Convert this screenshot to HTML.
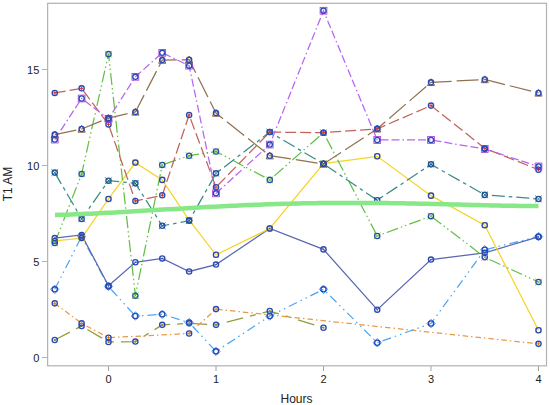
<!DOCTYPE html><html><head><meta charset="utf-8"><style>html,body{margin:0;padding:0;background:#fff;}svg{display:block;}text{font-family:"Liberation Sans",sans-serif;fill:#222;}</style></head><body>
<svg width="550" height="405" viewBox="0 0 550 405">
<rect x="0" y="0" width="550" height="405" fill="#fff"/>
<path d="M54.75,340.03 L81.62,326.01 L108.50,341.95 L135.38,341.56 L162.25,324.86 L189.12,323.32 L216.00,324.86 L269.75,311.04 L323.50,327.74" fill="none" stroke="#8E9E3E" stroke-width="1.25" stroke-dasharray="17 7 6 7"/>
<path d="M54.75,303.36 L81.62,323.32 L108.50,337.72 L189.12,333.50 L216.00,309.12 L538.50,343.87" fill="none" stroke="#E69A48" stroke-width="1.25" stroke-dasharray="5.5 3 1.5 3"/>
<path d="M54.75,289.34 L81.62,236.54 L108.50,286.46 L135.38,316.03 L162.25,314.30 L189.12,322.56 L216.00,351.36 L269.75,316.03 L323.50,289.34 L377.25,342.72 L431.00,323.52 L484.75,249.79 L538.50,236.54" fill="none" stroke="#4AA6F5" stroke-width="1.25" stroke-dasharray="9 4 1.5 4 1.5 4"/>
<path d="M54.75,238.08 L81.62,235.00 L108.50,285.69 L135.38,262.27 L162.25,258.43 L189.12,271.48 L216.00,264.57 L269.75,228.48 L323.50,249.40 L377.25,309.69 L431.00,259.58 L484.75,252.86 L538.50,236.92" fill="none" stroke="#5A68B0" stroke-width="1.25"/>
<path d="M54.75,240.96 L81.62,238.08 L108.50,198.91 L135.38,162.62 L162.25,179.90 L189.12,220.22 L216.00,254.78 L269.75,228.48 L323.50,163.58 L377.25,156.28 L431.00,195.64 L484.75,225.21 L538.50,330.24" fill="none" stroke="#F5D42A" stroke-width="1.25"/>
<path d="M54.75,243.07 L81.62,173.95 L108.50,54.14 L135.38,295.68 L162.25,164.92 L189.12,155.71 L216.00,151.48 L269.75,179.90 L323.50,132.67 L377.25,235.96 L431.00,216.19 L484.75,257.28 L538.50,282.04" fill="none" stroke="#62C045" stroke-width="1.25" stroke-dasharray="12 3 1.5 3 1.5 3"/>
<path d="M54.75,172.60 L81.62,218.88 L108.50,180.67 L135.38,183.36 L162.25,225.79 L189.12,220.80 L216.00,173.37 L269.75,132.09 L323.50,163.96 L377.25,200.25 L431.00,164.35 L484.75,194.88 L538.50,198.91" fill="none" stroke="#3A8C84" stroke-width="1.25" stroke-dasharray="13 4 3.5 4"/>
<path d="M54.75,92.92 L81.62,88.32 L108.50,124.41 L135.38,201.02 L162.25,195.26 L189.12,115.00 L216.00,187.20 L269.75,132.09 L323.50,132.67 L377.25,128.83 L431.00,105.60 L484.75,148.22 L538.50,169.72" fill="none" stroke="#C0645A" stroke-width="1.25" stroke-dasharray="11 4"/>
<path d="M54.75,139.58 L81.62,98.49 L108.50,118.84 L135.38,76.80 L162.25,52.80 L189.12,65.66 L216.00,193.34 L269.75,144.57 L323.50,10.75 L377.25,139.96 L431.00,139.96 L484.75,148.99 L538.50,166.46" fill="none" stroke="#B565F0" stroke-width="1.25" stroke-dasharray="8 3 8 3 1.5 3"/>
<path d="M54.75,134.59 L81.62,129.02 L108.50,118.08 L135.38,111.93 L162.25,60.09 L189.12,59.71 L216.00,113.08 L269.75,155.71 L323.50,163.96 L377.25,128.83 L431.00,82.36 L484.75,79.48 L538.50,92.92" fill="none" stroke="#907252" stroke-width="1.25" stroke-dasharray="22 5"/>
<circle cx="54.75" cy="340.03" r="2.6" fill="none" stroke="#2A48B5" stroke-width="1.35"/>
<circle cx="54.75" cy="340.03" r="1.1" fill="#7F8E1F"/>
<circle cx="81.62" cy="326.01" r="2.6" fill="none" stroke="#2A48B5" stroke-width="1.35"/>
<circle cx="81.62" cy="326.01" r="1.1" fill="#7F8E1F"/>
<circle cx="108.50" cy="341.95" r="2.6" fill="none" stroke="#2A48B5" stroke-width="1.35"/>
<circle cx="108.50" cy="341.95" r="1.1" fill="#7F8E1F"/>
<circle cx="135.38" cy="341.56" r="2.6" fill="none" stroke="#2A48B5" stroke-width="1.35"/>
<circle cx="135.38" cy="341.56" r="1.1" fill="#7F8E1F"/>
<circle cx="162.25" cy="324.86" r="2.6" fill="none" stroke="#2A48B5" stroke-width="1.35"/>
<circle cx="162.25" cy="324.86" r="1.1" fill="#7F8E1F"/>
<circle cx="189.12" cy="323.32" r="2.6" fill="none" stroke="#2A48B5" stroke-width="1.35"/>
<circle cx="189.12" cy="323.32" r="1.1" fill="#7F8E1F"/>
<circle cx="216.00" cy="324.86" r="2.6" fill="none" stroke="#2A48B5" stroke-width="1.35"/>
<circle cx="216.00" cy="324.86" r="1.1" fill="#7F8E1F"/>
<circle cx="269.75" cy="311.04" r="2.6" fill="none" stroke="#2A48B5" stroke-width="1.35"/>
<circle cx="269.75" cy="311.04" r="1.1" fill="#7F8E1F"/>
<circle cx="323.50" cy="327.74" r="2.6" fill="none" stroke="#2A48B5" stroke-width="1.35"/>
<circle cx="323.50" cy="327.74" r="1.1" fill="#7F8E1F"/>
<circle cx="54.75" cy="303.36" r="2.6" fill="none" stroke="#2A48B5" stroke-width="1.35"/>
<path d="M53.05,303.36h3.4M54.75,301.66v3.4" stroke="#E08010" stroke-width="1"/>
<circle cx="81.62" cy="323.32" r="2.6" fill="none" stroke="#2A48B5" stroke-width="1.35"/>
<path d="M79.92,323.32h3.4M81.62,321.62v3.4" stroke="#E08010" stroke-width="1"/>
<circle cx="108.50" cy="337.72" r="2.6" fill="none" stroke="#2A48B5" stroke-width="1.35"/>
<path d="M106.80,337.72h3.4M108.50,336.02v3.4" stroke="#E08010" stroke-width="1"/>
<circle cx="189.12" cy="333.50" r="2.6" fill="none" stroke="#2A48B5" stroke-width="1.35"/>
<path d="M187.43,333.50h3.4M189.12,331.80v3.4" stroke="#E08010" stroke-width="1"/>
<circle cx="216.00" cy="309.12" r="2.6" fill="none" stroke="#2A48B5" stroke-width="1.35"/>
<path d="M214.30,309.12h3.4M216.00,307.42v3.4" stroke="#E08010" stroke-width="1"/>
<circle cx="538.50" cy="343.87" r="2.6" fill="none" stroke="#2A48B5" stroke-width="1.35"/>
<path d="M536.80,343.87h3.4M538.50,342.17v3.4" stroke="#E08010" stroke-width="1"/>
<path d="M54.75,285.14L58.95,289.34L54.75,293.54L50.55,289.34Z" fill="none" stroke="#3A9CF8" stroke-width="1"/>
<circle cx="54.75" cy="289.34" r="2.6" fill="none" stroke="#2A48B5" stroke-width="1.35"/>
<path d="M81.62,232.34L85.83,236.54L81.62,240.74L77.42,236.54Z" fill="none" stroke="#3A9CF8" stroke-width="1"/>
<circle cx="81.62" cy="236.54" r="2.6" fill="none" stroke="#2A48B5" stroke-width="1.35"/>
<path d="M108.50,282.26L112.70,286.46L108.50,290.66L104.30,286.46Z" fill="none" stroke="#3A9CF8" stroke-width="1"/>
<circle cx="108.50" cy="286.46" r="2.6" fill="none" stroke="#2A48B5" stroke-width="1.35"/>
<path d="M135.38,311.83L139.57,316.03L135.38,320.23L131.18,316.03Z" fill="none" stroke="#3A9CF8" stroke-width="1"/>
<circle cx="135.38" cy="316.03" r="2.6" fill="none" stroke="#2A48B5" stroke-width="1.35"/>
<path d="M162.25,310.10L166.45,314.30L162.25,318.50L158.05,314.30Z" fill="none" stroke="#3A9CF8" stroke-width="1"/>
<circle cx="162.25" cy="314.30" r="2.6" fill="none" stroke="#2A48B5" stroke-width="1.35"/>
<path d="M189.12,318.36L193.32,322.56L189.12,326.76L184.93,322.56Z" fill="none" stroke="#3A9CF8" stroke-width="1"/>
<circle cx="189.12" cy="322.56" r="2.6" fill="none" stroke="#2A48B5" stroke-width="1.35"/>
<path d="M216.00,347.16L220.20,351.36L216.00,355.56L211.80,351.36Z" fill="none" stroke="#3A9CF8" stroke-width="1"/>
<circle cx="216.00" cy="351.36" r="2.6" fill="none" stroke="#2A48B5" stroke-width="1.35"/>
<path d="M269.75,311.83L273.95,316.03L269.75,320.23L265.55,316.03Z" fill="none" stroke="#3A9CF8" stroke-width="1"/>
<circle cx="269.75" cy="316.03" r="2.6" fill="none" stroke="#2A48B5" stroke-width="1.35"/>
<path d="M323.50,285.14L327.70,289.34L323.50,293.54L319.30,289.34Z" fill="none" stroke="#3A9CF8" stroke-width="1"/>
<circle cx="323.50" cy="289.34" r="2.6" fill="none" stroke="#2A48B5" stroke-width="1.35"/>
<path d="M377.25,338.52L381.45,342.72L377.25,346.92L373.05,342.72Z" fill="none" stroke="#3A9CF8" stroke-width="1"/>
<circle cx="377.25" cy="342.72" r="2.6" fill="none" stroke="#2A48B5" stroke-width="1.35"/>
<path d="M431.00,319.32L435.20,323.52L431.00,327.72L426.80,323.52Z" fill="none" stroke="#3A9CF8" stroke-width="1"/>
<circle cx="431.00" cy="323.52" r="2.6" fill="none" stroke="#2A48B5" stroke-width="1.35"/>
<path d="M484.75,245.59L488.95,249.79L484.75,253.99L480.55,249.79Z" fill="none" stroke="#3A9CF8" stroke-width="1"/>
<circle cx="484.75" cy="249.79" r="2.6" fill="none" stroke="#2A48B5" stroke-width="1.35"/>
<path d="M538.50,232.34L542.70,236.54L538.50,240.74L534.30,236.54Z" fill="none" stroke="#3A9CF8" stroke-width="1"/>
<circle cx="538.50" cy="236.54" r="2.6" fill="none" stroke="#2A48B5" stroke-width="1.35"/>
<circle cx="54.75" cy="238.08" r="2.6" fill="none" stroke="#2A48B5" stroke-width="1.35"/>
<circle cx="54.75" cy="238.08" r="0.8" fill="#445694"/>
<circle cx="81.62" cy="235.00" r="2.6" fill="none" stroke="#2A48B5" stroke-width="1.35"/>
<circle cx="81.62" cy="235.00" r="0.8" fill="#445694"/>
<circle cx="108.50" cy="285.69" r="2.6" fill="none" stroke="#2A48B5" stroke-width="1.35"/>
<circle cx="108.50" cy="285.69" r="0.8" fill="#445694"/>
<circle cx="135.38" cy="262.27" r="2.6" fill="none" stroke="#2A48B5" stroke-width="1.35"/>
<circle cx="135.38" cy="262.27" r="0.8" fill="#445694"/>
<circle cx="162.25" cy="258.43" r="2.6" fill="none" stroke="#2A48B5" stroke-width="1.35"/>
<circle cx="162.25" cy="258.43" r="0.8" fill="#445694"/>
<circle cx="189.12" cy="271.48" r="2.6" fill="none" stroke="#2A48B5" stroke-width="1.35"/>
<circle cx="189.12" cy="271.48" r="0.8" fill="#445694"/>
<circle cx="216.00" cy="264.57" r="2.6" fill="none" stroke="#2A48B5" stroke-width="1.35"/>
<circle cx="216.00" cy="264.57" r="0.8" fill="#445694"/>
<circle cx="269.75" cy="228.48" r="2.6" fill="none" stroke="#2A48B5" stroke-width="1.35"/>
<circle cx="269.75" cy="228.48" r="0.8" fill="#445694"/>
<circle cx="323.50" cy="249.40" r="2.6" fill="none" stroke="#2A48B5" stroke-width="1.35"/>
<circle cx="323.50" cy="249.40" r="0.8" fill="#445694"/>
<circle cx="377.25" cy="309.69" r="2.6" fill="none" stroke="#2A48B5" stroke-width="1.35"/>
<circle cx="377.25" cy="309.69" r="0.8" fill="#445694"/>
<circle cx="431.00" cy="259.58" r="2.6" fill="none" stroke="#2A48B5" stroke-width="1.35"/>
<circle cx="431.00" cy="259.58" r="0.8" fill="#445694"/>
<circle cx="484.75" cy="252.86" r="2.6" fill="none" stroke="#2A48B5" stroke-width="1.35"/>
<circle cx="484.75" cy="252.86" r="0.8" fill="#445694"/>
<circle cx="538.50" cy="236.92" r="2.6" fill="none" stroke="#2A48B5" stroke-width="1.35"/>
<circle cx="538.50" cy="236.92" r="0.8" fill="#445694"/>
<rect x="52.15" y="238.36" width="5.2" height="5.2" fill="none" stroke="#F9DA04" stroke-width="0.8"/>
<circle cx="54.75" cy="240.96" r="2.6" fill="none" stroke="#2A48B5" stroke-width="1.35"/>
<rect x="79.03" y="235.48" width="5.2" height="5.2" fill="none" stroke="#F9DA04" stroke-width="0.8"/>
<circle cx="81.62" cy="238.08" r="2.6" fill="none" stroke="#2A48B5" stroke-width="1.35"/>
<rect x="105.90" y="196.31" width="5.2" height="5.2" fill="none" stroke="#F9DA04" stroke-width="0.8"/>
<circle cx="108.50" cy="198.91" r="2.6" fill="none" stroke="#2A48B5" stroke-width="1.35"/>
<rect x="132.78" y="160.02" width="5.2" height="5.2" fill="none" stroke="#F9DA04" stroke-width="0.8"/>
<circle cx="135.38" cy="162.62" r="2.6" fill="none" stroke="#2A48B5" stroke-width="1.35"/>
<rect x="159.65" y="177.30" width="5.2" height="5.2" fill="none" stroke="#F9DA04" stroke-width="0.8"/>
<circle cx="162.25" cy="179.90" r="2.6" fill="none" stroke="#2A48B5" stroke-width="1.35"/>
<rect x="186.53" y="217.62" width="5.2" height="5.2" fill="none" stroke="#F9DA04" stroke-width="0.8"/>
<circle cx="189.12" cy="220.22" r="2.6" fill="none" stroke="#2A48B5" stroke-width="1.35"/>
<rect x="213.40" y="252.18" width="5.2" height="5.2" fill="none" stroke="#F9DA04" stroke-width="0.8"/>
<circle cx="216.00" cy="254.78" r="2.6" fill="none" stroke="#2A48B5" stroke-width="1.35"/>
<rect x="267.15" y="225.88" width="5.2" height="5.2" fill="none" stroke="#F9DA04" stroke-width="0.8"/>
<circle cx="269.75" cy="228.48" r="2.6" fill="none" stroke="#2A48B5" stroke-width="1.35"/>
<rect x="320.90" y="160.98" width="5.2" height="5.2" fill="none" stroke="#F9DA04" stroke-width="0.8"/>
<circle cx="323.50" cy="163.58" r="2.6" fill="none" stroke="#2A48B5" stroke-width="1.35"/>
<rect x="374.65" y="153.68" width="5.2" height="5.2" fill="none" stroke="#F9DA04" stroke-width="0.8"/>
<circle cx="377.25" cy="156.28" r="2.6" fill="none" stroke="#2A48B5" stroke-width="1.35"/>
<rect x="428.40" y="193.04" width="5.2" height="5.2" fill="none" stroke="#F9DA04" stroke-width="0.8"/>
<circle cx="431.00" cy="195.64" r="2.6" fill="none" stroke="#2A48B5" stroke-width="1.35"/>
<rect x="482.15" y="222.61" width="5.2" height="5.2" fill="none" stroke="#F9DA04" stroke-width="0.8"/>
<circle cx="484.75" cy="225.21" r="2.6" fill="none" stroke="#2A48B5" stroke-width="1.35"/>
<rect x="535.90" y="327.64" width="5.2" height="5.2" fill="none" stroke="#F9DA04" stroke-width="0.8"/>
<circle cx="538.50" cy="330.24" r="2.6" fill="none" stroke="#2A48B5" stroke-width="1.35"/>
<circle cx="54.75" cy="243.07" r="2.6" fill="none" stroke="#2A48B5" stroke-width="1.35"/>
<path d="M51.45,239.77l6.6,6.6M51.45,246.37l6.6,-6.6" stroke="#47A82A" stroke-width="0.9" opacity="0.85"/>
<circle cx="81.62" cy="173.95" r="2.6" fill="none" stroke="#2A48B5" stroke-width="1.35"/>
<path d="M78.33,170.65l6.6,6.6M78.33,177.25l6.6,-6.6" stroke="#47A82A" stroke-width="0.9" opacity="0.85"/>
<circle cx="108.50" cy="54.14" r="2.6" fill="none" stroke="#2A48B5" stroke-width="1.35"/>
<path d="M105.20,50.84l6.6,6.6M105.20,57.44l6.6,-6.6" stroke="#47A82A" stroke-width="0.9" opacity="0.85"/>
<circle cx="135.38" cy="295.68" r="2.6" fill="none" stroke="#2A48B5" stroke-width="1.35"/>
<path d="M132.07,292.38l6.6,6.6M132.07,298.98l6.6,-6.6" stroke="#47A82A" stroke-width="0.9" opacity="0.85"/>
<circle cx="162.25" cy="164.92" r="2.6" fill="none" stroke="#2A48B5" stroke-width="1.35"/>
<path d="M158.95,161.62l6.6,6.6M158.95,168.22l6.6,-6.6" stroke="#47A82A" stroke-width="0.9" opacity="0.85"/>
<circle cx="189.12" cy="155.71" r="2.6" fill="none" stroke="#2A48B5" stroke-width="1.35"/>
<path d="M185.82,152.41l6.6,6.6M185.82,159.01l6.6,-6.6" stroke="#47A82A" stroke-width="0.9" opacity="0.85"/>
<circle cx="216.00" cy="151.48" r="2.6" fill="none" stroke="#2A48B5" stroke-width="1.35"/>
<path d="M212.70,148.18l6.6,6.6M212.70,154.78l6.6,-6.6" stroke="#47A82A" stroke-width="0.9" opacity="0.85"/>
<circle cx="269.75" cy="179.90" r="2.6" fill="none" stroke="#2A48B5" stroke-width="1.35"/>
<path d="M266.45,176.60l6.6,6.6M266.45,183.20l6.6,-6.6" stroke="#47A82A" stroke-width="0.9" opacity="0.85"/>
<circle cx="323.50" cy="132.67" r="2.6" fill="none" stroke="#2A48B5" stroke-width="1.35"/>
<path d="M320.20,129.37l6.6,6.6M320.20,135.97l6.6,-6.6" stroke="#47A82A" stroke-width="0.9" opacity="0.85"/>
<circle cx="377.25" cy="235.96" r="2.6" fill="none" stroke="#2A48B5" stroke-width="1.35"/>
<path d="M373.95,232.66l6.6,6.6M373.95,239.26l6.6,-6.6" stroke="#47A82A" stroke-width="0.9" opacity="0.85"/>
<circle cx="431.00" cy="216.19" r="2.6" fill="none" stroke="#2A48B5" stroke-width="1.35"/>
<path d="M427.70,212.89l6.6,6.6M427.70,219.49l6.6,-6.6" stroke="#47A82A" stroke-width="0.9" opacity="0.85"/>
<circle cx="484.75" cy="257.28" r="2.6" fill="none" stroke="#2A48B5" stroke-width="1.35"/>
<path d="M481.45,253.98l6.6,6.6M481.45,260.58l6.6,-6.6" stroke="#47A82A" stroke-width="0.9" opacity="0.85"/>
<circle cx="538.50" cy="282.04" r="2.6" fill="none" stroke="#2A48B5" stroke-width="1.35"/>
<path d="M535.20,278.74l6.6,6.6M535.20,285.34l6.6,-6.6" stroke="#47A82A" stroke-width="0.9" opacity="0.85"/>
<circle cx="54.75" cy="172.60" r="2.6" fill="none" stroke="#2A48B5" stroke-width="1.35"/>
<path d="M51.45,169.30l6.6,6.6M51.45,175.90l6.6,-6.6" stroke="#01665E" stroke-width="0.9" opacity="0.85"/>
<circle cx="81.62" cy="218.88" r="2.6" fill="none" stroke="#2A48B5" stroke-width="1.35"/>
<path d="M78.33,215.58l6.6,6.6M78.33,222.18l6.6,-6.6" stroke="#01665E" stroke-width="0.9" opacity="0.85"/>
<circle cx="108.50" cy="180.67" r="2.6" fill="none" stroke="#2A48B5" stroke-width="1.35"/>
<path d="M105.20,177.37l6.6,6.6M105.20,183.97l6.6,-6.6" stroke="#01665E" stroke-width="0.9" opacity="0.85"/>
<circle cx="135.38" cy="183.36" r="2.6" fill="none" stroke="#2A48B5" stroke-width="1.35"/>
<path d="M132.07,180.06l6.6,6.6M132.07,186.66l6.6,-6.6" stroke="#01665E" stroke-width="0.9" opacity="0.85"/>
<circle cx="162.25" cy="225.79" r="2.6" fill="none" stroke="#2A48B5" stroke-width="1.35"/>
<path d="M158.95,222.49l6.6,6.6M158.95,229.09l6.6,-6.6" stroke="#01665E" stroke-width="0.9" opacity="0.85"/>
<circle cx="189.12" cy="220.80" r="2.6" fill="none" stroke="#2A48B5" stroke-width="1.35"/>
<path d="M185.82,217.50l6.6,6.6M185.82,224.10l6.6,-6.6" stroke="#01665E" stroke-width="0.9" opacity="0.85"/>
<circle cx="216.00" cy="173.37" r="2.6" fill="none" stroke="#2A48B5" stroke-width="1.35"/>
<path d="M212.70,170.07l6.6,6.6M212.70,176.67l6.6,-6.6" stroke="#01665E" stroke-width="0.9" opacity="0.85"/>
<circle cx="269.75" cy="132.09" r="2.6" fill="none" stroke="#2A48B5" stroke-width="1.35"/>
<path d="M266.45,128.79l6.6,6.6M266.45,135.39l6.6,-6.6" stroke="#01665E" stroke-width="0.9" opacity="0.85"/>
<circle cx="323.50" cy="163.96" r="2.6" fill="none" stroke="#2A48B5" stroke-width="1.35"/>
<path d="M320.20,160.66l6.6,6.6M320.20,167.26l6.6,-6.6" stroke="#01665E" stroke-width="0.9" opacity="0.85"/>
<circle cx="377.25" cy="200.25" r="2.6" fill="none" stroke="#2A48B5" stroke-width="1.35"/>
<path d="M373.95,196.95l6.6,6.6M373.95,203.55l6.6,-6.6" stroke="#01665E" stroke-width="0.9" opacity="0.85"/>
<circle cx="431.00" cy="164.35" r="2.6" fill="none" stroke="#2A48B5" stroke-width="1.35"/>
<path d="M427.70,161.05l6.6,6.6M427.70,167.65l6.6,-6.6" stroke="#01665E" stroke-width="0.9" opacity="0.85"/>
<circle cx="484.75" cy="194.88" r="2.6" fill="none" stroke="#2A48B5" stroke-width="1.35"/>
<path d="M481.45,191.58l6.6,6.6M481.45,198.18l6.6,-6.6" stroke="#01665E" stroke-width="0.9" opacity="0.85"/>
<circle cx="538.50" cy="198.91" r="2.6" fill="none" stroke="#2A48B5" stroke-width="1.35"/>
<path d="M535.20,195.61l6.6,6.6M535.20,202.21l6.6,-6.6" stroke="#01665E" stroke-width="0.9" opacity="0.85"/>
<circle cx="54.75" cy="92.92" r="2.6" fill="none" stroke="#2A48B5" stroke-width="1.35"/>
<path d="M53.05,92.92h3.4M54.75,91.22v3.4" stroke="#E03020" stroke-width="1"/>
<circle cx="81.62" cy="88.32" r="2.6" fill="none" stroke="#2A48B5" stroke-width="1.35"/>
<path d="M79.92,88.32h3.4M81.62,86.62v3.4" stroke="#E03020" stroke-width="1"/>
<circle cx="108.50" cy="124.41" r="2.6" fill="none" stroke="#2A48B5" stroke-width="1.35"/>
<path d="M106.80,124.41h3.4M108.50,122.71v3.4" stroke="#E03020" stroke-width="1"/>
<circle cx="135.38" cy="201.02" r="2.6" fill="none" stroke="#2A48B5" stroke-width="1.35"/>
<path d="M133.68,201.02h3.4M135.38,199.32v3.4" stroke="#E03020" stroke-width="1"/>
<circle cx="162.25" cy="195.26" r="2.6" fill="none" stroke="#2A48B5" stroke-width="1.35"/>
<path d="M160.55,195.26h3.4M162.25,193.56v3.4" stroke="#E03020" stroke-width="1"/>
<circle cx="189.12" cy="115.00" r="2.6" fill="none" stroke="#2A48B5" stroke-width="1.35"/>
<path d="M187.43,115.00h3.4M189.12,113.30v3.4" stroke="#E03020" stroke-width="1"/>
<circle cx="216.00" cy="187.20" r="2.6" fill="none" stroke="#2A48B5" stroke-width="1.35"/>
<path d="M214.30,187.20h3.4M216.00,185.50v3.4" stroke="#E03020" stroke-width="1"/>
<circle cx="269.75" cy="132.09" r="2.6" fill="none" stroke="#2A48B5" stroke-width="1.35"/>
<path d="M268.05,132.09h3.4M269.75,130.39v3.4" stroke="#E03020" stroke-width="1"/>
<circle cx="323.50" cy="132.67" r="2.6" fill="none" stroke="#2A48B5" stroke-width="1.35"/>
<path d="M321.80,132.67h3.4M323.50,130.97v3.4" stroke="#E03020" stroke-width="1"/>
<circle cx="377.25" cy="128.83" r="2.6" fill="none" stroke="#2A48B5" stroke-width="1.35"/>
<path d="M375.55,128.83h3.4M377.25,127.13v3.4" stroke="#E03020" stroke-width="1"/>
<circle cx="431.00" cy="105.60" r="2.6" fill="none" stroke="#2A48B5" stroke-width="1.35"/>
<path d="M429.30,105.60h3.4M431.00,103.90v3.4" stroke="#E03020" stroke-width="1"/>
<circle cx="484.75" cy="148.22" r="2.6" fill="none" stroke="#2A48B5" stroke-width="1.35"/>
<path d="M483.05,148.22h3.4M484.75,146.52v3.4" stroke="#E03020" stroke-width="1"/>
<circle cx="538.50" cy="169.72" r="2.6" fill="none" stroke="#2A48B5" stroke-width="1.35"/>
<path d="M536.80,169.72h3.4M538.50,168.02v3.4" stroke="#E03020" stroke-width="1"/>
<rect x="51.35" y="136.18" width="6.8" height="6.8" fill="none" stroke="#9D3CDB" stroke-width="0.8"/>
<circle cx="54.75" cy="139.58" r="2.6" fill="none" stroke="#2A48B5" stroke-width="1.35"/>
<rect x="78.22" y="95.09" width="6.8" height="6.8" fill="none" stroke="#9D3CDB" stroke-width="0.8"/>
<circle cx="81.62" cy="98.49" r="2.6" fill="none" stroke="#2A48B5" stroke-width="1.35"/>
<rect x="105.10" y="115.44" width="6.8" height="6.8" fill="none" stroke="#9D3CDB" stroke-width="0.8"/>
<circle cx="108.50" cy="118.84" r="2.6" fill="none" stroke="#2A48B5" stroke-width="1.35"/>
<rect x="131.97" y="73.40" width="6.8" height="6.8" fill="none" stroke="#9D3CDB" stroke-width="0.8"/>
<circle cx="135.38" cy="76.80" r="2.6" fill="none" stroke="#2A48B5" stroke-width="1.35"/>
<rect x="158.85" y="49.40" width="6.8" height="6.8" fill="none" stroke="#9D3CDB" stroke-width="0.8"/>
<circle cx="162.25" cy="52.80" r="2.6" fill="none" stroke="#2A48B5" stroke-width="1.35"/>
<rect x="185.72" y="62.26" width="6.8" height="6.8" fill="none" stroke="#9D3CDB" stroke-width="0.8"/>
<circle cx="189.12" cy="65.66" r="2.6" fill="none" stroke="#2A48B5" stroke-width="1.35"/>
<rect x="212.60" y="189.94" width="6.8" height="6.8" fill="none" stroke="#9D3CDB" stroke-width="0.8"/>
<circle cx="216.00" cy="193.34" r="2.6" fill="none" stroke="#2A48B5" stroke-width="1.35"/>
<rect x="266.35" y="141.17" width="6.8" height="6.8" fill="none" stroke="#9D3CDB" stroke-width="0.8"/>
<circle cx="269.75" cy="144.57" r="2.6" fill="none" stroke="#2A48B5" stroke-width="1.35"/>
<rect x="320.10" y="7.35" width="6.8" height="6.8" fill="none" stroke="#9D3CDB" stroke-width="0.8"/>
<circle cx="323.50" cy="10.75" r="2.6" fill="none" stroke="#2A48B5" stroke-width="1.35"/>
<rect x="373.85" y="136.56" width="6.8" height="6.8" fill="none" stroke="#9D3CDB" stroke-width="0.8"/>
<circle cx="377.25" cy="139.96" r="2.6" fill="none" stroke="#2A48B5" stroke-width="1.35"/>
<rect x="427.60" y="136.56" width="6.8" height="6.8" fill="none" stroke="#9D3CDB" stroke-width="0.8"/>
<circle cx="431.00" cy="139.96" r="2.6" fill="none" stroke="#2A48B5" stroke-width="1.35"/>
<rect x="481.35" y="145.59" width="6.8" height="6.8" fill="none" stroke="#9D3CDB" stroke-width="0.8"/>
<circle cx="484.75" cy="148.99" r="2.6" fill="none" stroke="#2A48B5" stroke-width="1.35"/>
<rect x="535.10" y="163.06" width="6.8" height="6.8" fill="none" stroke="#9D3CDB" stroke-width="0.8"/>
<circle cx="538.50" cy="166.46" r="2.6" fill="none" stroke="#2A48B5" stroke-width="1.35"/>
<path d="M54.75,130.99L58.35,137.79L51.15,137.79Z" fill="none" stroke="#7A5A35" stroke-width="0.9"/>
<circle cx="54.75" cy="134.59" r="2.6" fill="none" stroke="#2A48B5" stroke-width="1.35"/>
<path d="M81.62,125.42L85.22,132.22L78.03,132.22Z" fill="none" stroke="#7A5A35" stroke-width="0.9"/>
<circle cx="81.62" cy="129.02" r="2.6" fill="none" stroke="#2A48B5" stroke-width="1.35"/>
<path d="M108.50,114.48L112.10,121.28L104.90,121.28Z" fill="none" stroke="#7A5A35" stroke-width="0.9"/>
<circle cx="108.50" cy="118.08" r="2.6" fill="none" stroke="#2A48B5" stroke-width="1.35"/>
<path d="M135.38,108.33L138.97,115.13L131.78,115.13Z" fill="none" stroke="#7A5A35" stroke-width="0.9"/>
<circle cx="135.38" cy="111.93" r="2.6" fill="none" stroke="#2A48B5" stroke-width="1.35"/>
<path d="M162.25,56.49L165.85,63.29L158.65,63.29Z" fill="none" stroke="#7A5A35" stroke-width="0.9"/>
<circle cx="162.25" cy="60.09" r="2.6" fill="none" stroke="#2A48B5" stroke-width="1.35"/>
<path d="M189.12,56.11L192.72,62.91L185.53,62.91Z" fill="none" stroke="#7A5A35" stroke-width="0.9"/>
<circle cx="189.12" cy="59.71" r="2.6" fill="none" stroke="#2A48B5" stroke-width="1.35"/>
<path d="M216.00,109.48L219.60,116.28L212.40,116.28Z" fill="none" stroke="#7A5A35" stroke-width="0.9"/>
<circle cx="216.00" cy="113.08" r="2.6" fill="none" stroke="#2A48B5" stroke-width="1.35"/>
<path d="M269.75,152.11L273.35,158.91L266.15,158.91Z" fill="none" stroke="#7A5A35" stroke-width="0.9"/>
<circle cx="269.75" cy="155.71" r="2.6" fill="none" stroke="#2A48B5" stroke-width="1.35"/>
<path d="M323.50,160.36L327.10,167.16L319.90,167.16Z" fill="none" stroke="#7A5A35" stroke-width="0.9"/>
<circle cx="323.50" cy="163.96" r="2.6" fill="none" stroke="#2A48B5" stroke-width="1.35"/>
<path d="M377.25,125.23L380.85,132.03L373.65,132.03Z" fill="none" stroke="#7A5A35" stroke-width="0.9"/>
<circle cx="377.25" cy="128.83" r="2.6" fill="none" stroke="#2A48B5" stroke-width="1.35"/>
<path d="M431.00,78.76L434.60,85.56L427.40,85.56Z" fill="none" stroke="#7A5A35" stroke-width="0.9"/>
<circle cx="431.00" cy="82.36" r="2.6" fill="none" stroke="#2A48B5" stroke-width="1.35"/>
<path d="M484.75,75.88L488.35,82.68L481.15,82.68Z" fill="none" stroke="#7A5A35" stroke-width="0.9"/>
<circle cx="484.75" cy="79.48" r="2.6" fill="none" stroke="#2A48B5" stroke-width="1.35"/>
<path d="M538.50,89.32L542.10,96.12L534.90,96.12Z" fill="none" stroke="#7A5A35" stroke-width="0.9"/>
<circle cx="538.50" cy="92.92" r="2.6" fill="none" stroke="#2A48B5" stroke-width="1.35"/>
<polyline points="55.0,214.98 59.0,214.87 63.0,214.75 67.0,214.63 71.0,214.49 75.0,214.34 79.0,214.18 83.0,214.02 87.0,213.84 91.0,213.66 95.0,213.47 99.0,213.28 103.0,213.08 107.0,212.87 111.0,212.66 115.0,212.44 119.0,212.22 123.0,211.99 127.0,211.76 131.0,211.53 135.0,211.29 139.0,211.06 143.0,210.82 147.0,210.58 151.0,210.34 155.0,210.10 159.0,209.85 163.0,209.61 167.0,209.37 171.0,209.13 175.0,208.89 179.0,208.66 183.0,208.42 187.0,208.19 191.0,207.96 195.0,207.73 199.0,207.50 203.0,207.28 207.0,207.06 211.0,206.85 215.0,206.64 219.0,206.43 223.0,206.23 227.0,206.03 231.0,205.84 235.0,205.65 239.0,205.47 243.0,205.29 247.0,205.12 251.0,204.95 255.0,204.79 259.0,204.64 263.0,204.49 267.0,204.35 271.0,204.21 275.0,204.08 279.0,203.96 283.0,203.84 287.0,203.73 291.0,203.63 295.0,203.53 299.0,203.44 303.0,203.36 307.0,203.28 311.0,203.21 315.0,203.15 319.0,203.09 323.0,203.04 327.0,203.00 331.0,202.96 335.0,202.94 339.0,202.91 343.0,202.90 347.0,202.89 351.0,202.88 355.0,202.89 359.0,202.89 363.0,202.91 367.0,202.93 371.0,202.96 375.0,202.99 379.0,203.03 383.0,203.07 387.0,203.12 391.0,203.17 395.0,203.23 399.0,203.29 403.0,203.36 407.0,203.43 411.0,203.50 415.0,203.58 419.0,203.66 423.0,203.75 427.0,203.83 431.0,203.92 435.0,204.02 439.0,204.11 443.0,204.21 447.0,204.31 451.0,204.41 455.0,204.51 459.0,204.61 463.0,204.71 467.0,204.81 471.0,204.91 475.0,205.00 479.0,205.10 483.0,205.20 487.0,205.29 491.0,205.38 495.0,205.47 499.0,205.55 503.0,205.63 507.0,205.71 511.0,205.78 515.0,205.84 519.0,205.90 523.0,205.95 527.0,206.00 531.0,206.04 535.0,206.07 538.5,206.09" fill="none" stroke="#88E888" stroke-width="4.5" stroke-linejoin="round"/>
<rect x="47.6" y="3.3" width="498.9" height="362.5" fill="none" stroke="#B2B4B6" stroke-width="1.25"/>
<line x1="42" y1="357.5" x2="47" y2="357.5" stroke="#B2B4B6" stroke-width="1"/>
<text x="39.3" y="361.5" font-size="11" text-anchor="end">0</text>
<line x1="42" y1="261.5" x2="47" y2="261.5" stroke="#B2B4B6" stroke-width="1"/>
<text x="39.3" y="265.5" font-size="11" text-anchor="end">5</text>
<line x1="42" y1="165.5" x2="47" y2="165.5" stroke="#B2B4B6" stroke-width="1"/>
<text x="39.3" y="169.5" font-size="11" text-anchor="end">10</text>
<line x1="42" y1="69.5" x2="47" y2="69.5" stroke="#B2B4B6" stroke-width="1"/>
<text x="39.3" y="73.5" font-size="11" text-anchor="end">15</text>
<line x1="108.5" y1="366" x2="108.5" y2="371" stroke="#A0A2A4" stroke-width="1"/>
<text x="108.5" y="383" font-size="11" text-anchor="middle">0</text>
<line x1="216.0" y1="366" x2="216.0" y2="371" stroke="#A0A2A4" stroke-width="1"/>
<text x="216.0" y="383" font-size="11" text-anchor="middle">1</text>
<line x1="323.5" y1="366" x2="323.5" y2="371" stroke="#A0A2A4" stroke-width="1"/>
<text x="323.5" y="383" font-size="11" text-anchor="middle">2</text>
<line x1="431.0" y1="366" x2="431.0" y2="371" stroke="#A0A2A4" stroke-width="1"/>
<text x="431.0" y="383" font-size="11" text-anchor="middle">3</text>
<line x1="538.5" y1="366" x2="538.5" y2="371" stroke="#A0A2A4" stroke-width="1"/>
<text x="538.5" y="383" font-size="11" text-anchor="middle">4</text>
<text x="296.5" y="403" font-size="12" text-anchor="middle">Hours</text>
<text transform="translate(12,184) rotate(-90)" x="0" y="0" font-size="12" text-anchor="middle">T1 AM</text>
</svg></body></html>
